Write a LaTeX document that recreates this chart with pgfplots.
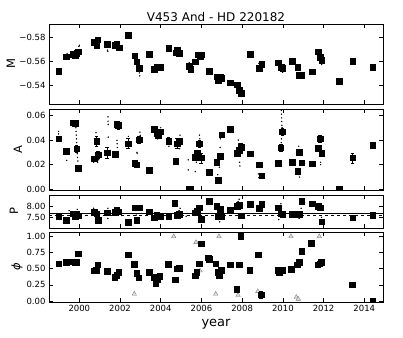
\documentclass[border=0pt]{standalone}
\usepackage{fontspec}
\setmainfont{DejaVu Sans}
\usepackage{pgfplots}
\pgfplotsset{compat=1.18}
\begin{document}
\begin{tikzpicture}
\path[use as bounding box] (-49pt,24pt) rectangle (354pt,-313pt);
\pgfplotsset{
  panel/.style={at={(0pt,#1)}, anchor=north west, width=334pt, scale only axis,
    xmin=1998.51, xmax=2014.92, xtick={2000,2002,...,2014}, xticklabels={},
    scaled y ticks=false, clip mode=individual, clip marker paths=true,
    tick align=inside, major tick length=4pt, tick style={black, line width=0.5pt},
    axis line style={line width=0.8pt},
    tick label style={font=\fontsize{8.5}{9}\selectfont},
    ylabel style={font=\fontsize{11.5}{13}\selectfont, anchor=center}},
  sq/.style={only marks, mark=square*, mark size=2.8pt, black},
  dots/.style={only marks, mark=*, mark size=0.45pt, black},
  eb/.style={sq, error bars/.cd, y dir=both, y explicit,
    error bar style={black, line width=0.5pt},
    error mark options={rotate=90, mark size=1.8pt, black, line width=0.5pt}},
  tri/.style={only marks, mark=triangle*, mark size=2.6pt, draw=gray, fill=gray!25},
}

% magnitude
\begin{axis}[panel=0pt, height=80pt,
  y dir=reverse, ymin=-0.5912, ymax=-0.5246,
  ytick={-0.58,-0.56,-0.54}, yticklabels={−0.58,−0.56,−0.54},
  ylabel={M}, ylabel style={at={(axis description cs:-0.114,0.5)}}]
\addplot[dots] coordinates {
(1998.98,-0.5495)(1999.40,-0.5665)(1999.98,-0.5725)(2000.00,-0.5735)(2001.38,-0.5695)
(2001.40,-0.5685)(2002.95,-0.5505)(2002.97,-0.548)(2004.95,-0.5655)(2008.82,-0.5585)
(2009.98,-0.5525)(2009.99,-0.551)(2010.95,-0.5470)(2010.97,-0.546)(2011.88,-0.559)
(2011.90,-0.5575)(2005.40,-0.5590)};
\addplot[sq] coordinates {
(1998.98,-0.552)(1999.36,-0.564)
(1999.71,-0.566)(1999.79,-0.5647)(1999.87,-0.567)(1999.95,-0.5683)
(2000.72,-0.5758)(2000.85,-0.5738)(2000.90,-0.578)
(2001.36,-0.5744)
(2001.75,-0.5738)(2001.83,-0.5747)(2001.95,-0.5716)
(2002.39,-0.5817)
(2002.72,-0.5649)(2002.82,-0.5599)(2002.93,-0.5543)
(2003.44,-0.5663)
(2003.68,-0.5534)(2003.80,-0.5557)(2003.96,-0.5551)
(2004.39,-0.5710)
(2004.73,-0.5674)(2004.81,-0.5697)(2004.90,-0.5669)
(2005.39,-0.5563)(2005.47,-0.5534)
(2005.70,-0.5599)(2005.85,-0.5655)(2005.93,-0.5641)(2006.00,-0.5655)
(2006.37,-0.552)
(2006.75,-0.5473)(2006.83,-0.5445)(2006.91,-0.5467)(2006.99,-0.5459)
(2007.40,-0.5422)
(2007.76,-0.5408)(2007.86,-0.536)(2007.94,-0.5338)
(2008.40,-0.566)
(2008.84,-0.5543)(2008.96,-0.5579)
(2009.78,-0.559)(2009.91,-0.555)(2009.99,-0.5543)
(2010.45,-0.5604)
(2010.73,-0.555)(2010.81,-0.5487)(2010.92,-0.5487)
(2011.43,-0.5515)
(2011.74,-0.5683)(2011.82,-0.5635)(2011.90,-0.5613)
(2012.77,-0.5436)
(2013.43,-0.5601)
(2014.41,-0.5551)};
\end{axis}

% amplitude
\begin{axis}[panel=-85pt, height=81pt,
  ymin=-0.0005, ymax=0.0652,
  ytick={0,0.02,0.04,0.06}, yticklabels={0.00,0.02,0.04,0.06},
  ylabel={A}, ylabel style={at={(axis description cs:-0.093,0.5)}}]
\addplot[dots] coordinates {
(1998.98,0.045)(1998.98,0.047)(1999.38,0.0235)
(1999.83,0.050)(1999.84,0.047)(1999.85,0.044)(1999.86,0.041)(1999.87,0.038)
(1999.90,0.029)(1999.91,0.026)(1999.93,0.023)
(2000.70,0.022)(2000.75,0.023)(2000.82,0.046)(2000.90,0.022)(2000.95,0.024)
(2001.41,0.0588)(2001.41,0.0553)(2001.42,0.0528)(2001.42,0.0424)
(2001.85,0.0398)(2001.86,0.037)(2001.87,0.034)
(2002.41,0.043)(2002.83,0.030)(2002.84,0.029)(2002.98,0.0465)(2002.99,0.0438)
(2004.00,0.050)(2003.90,0.042)(2003.85,0.041)(2004.40,0.035)
(2004.95,0.044)(2004.93,0.033)
(2005.35,0.024)(2005.35,0.0158)(2005.70,0.0144)
(2005.90,0.044)(2005.92,0.041)(2005.75,0.022)
(2006.93,0.041)(2006.92,0.034)(2006.88,0.018)(2006.86,0.007)(2006.80,0.012)
(2007.81,0.040)(2007.84,0.037)(2007.88,0.022)(2007.89,0.019)
(2008.80,0.0125)(2008.82,0.0095)
(2009.93,0.064)(2009.93,0.061)(2009.94,0.058)(2009.94,0.055)(2009.95,0.052)
(2009.96,0.050)(2009.93,0.041)(2009.92,0.038)
(2010.78,0.035)(2010.79,0.012)(2010.82,0.010)
(2011.80,0.027)(2011.85,0.022)(2011.86,0.020)};
\addplot[eb] coordinates {
(1998.98,0.0412)+-(0,0.002)
(1999.36,0.0311)+-(0,0.002)
(1999.71,0.054)+-(0,0)(1999.79,0.0535)+-(0,0)
(1999.87,0.033)+-(0,0.003)
(1999.95,0.0172)+-(0,0)
(2000.72,0.0248)+-(0,0)
(2000.85,0.039)+-(0,0.004)
(2000.92,0.028)+-(0,0.003)
(2001.36,0.0297)+-(0,0.0045)
(2001.75,0.0284)+-(0,0)
(2001.83,0.0529)+-(0,0)(2001.92,0.052)+-(0,0.003)
(2002.39,0.0371)+-(0,0.004)
(2002.72,0.0213)+-(0,0)(2002.82,0.0199)+-(0,0)
(2002.93,0.0404)+-(0,0.003)
(2003.44,0.0158)+-(0,0)
(2003.68,0.0486)+-(0,0)(2003.80,0.0453)+-(0,0)(2003.88,0.0439)+-(0,0)(2003.96,0.0467)+-(0,0)
(2004.39,0.0393)+-(0,0.003)
(2004.73,0.0229)+-(0,0)
(2004.81,0.0371)+-(0,0.004)(2004.90,0.0393)+-(0,0)
(2005.39,0)+-(0,0)(2005.47,0)+-(0,0)
(2005.70,0.0262)+-(0,0)(2005.80,0.0295)+-(0,0)(2005.90,0.0371)+-(0,0.003)(2005.98,0.0256)+-(0,0.004)
(2006.37,0.0139)+-(0,0)
(2006.75,0.0221)+-(0,0)(2006.83,0.0076)+-(0,0)(2006.91,0.027)+-(0,0)(2006.99,0.0445)+-(0,0)
(2007.40,0.0486)+-(0,0)
(2007.76,0.0295)+-(0,0)(2007.86,0.0317)+-(0,0)(2007.94,0.0344)+-(0,0.003)
(2008.40,0.0289)+-(0,0)
(2008.84,0.0199)+-(0,0)(2008.96,0.0112)+-(0,0)
(2009.78,0.0213)+-(0,0)(2009.90,0.0338)+-(0,0.003)(2009.98,0.0467)+-(0,0.003)
(2010.45,0.0221)+-(0,0)
(2010.73,0.0147)+-(0,0)(2010.81,0.0303)+-(0,0)(2010.92,0.0216)+-(0,0)
(2011.43,0.0207)+-(0,0)
(2011.74,0.0336)+-(0,0)(2011.82,0.0412)+-(0,0.003)(2011.90,0.0295)+-(0,0)
(2012.77,0)+-(0,0)
(2013.43,0.0256)+-(0,0.004)
(2014.41,0.0357)+-(0,0.002)};
\end{axis}

% period
\begin{axis}[panel=-171pt, height=33pt,
  ymin=7.03, ymax=8.485,
  ytick={7.5,8.0}, yticklabels={7.50,8.00},
  ylabel={P}, ylabel style={at={(axis description cs:-0.105,0.5)}}]
\addplot[black, line width=0.8pt] coordinates {(1998.51,7.676)(2014.92,7.676)};
\addplot[black, line width=0.8pt, dashed] coordinates {(1998.51,7.588)(2014.92,7.588)};
\addplot[dots] coordinates {
(1999.5,7.8)(1999.9,7.85)(2000.7,7.9)(2001.4,7.9)(2001.4,7.45)(2002.8,7.6)(2003.9,7.7)
(2004.95,7.9)(2004.9,7.8)(2005.9,7.45)(2006.85,7.4)(2006.9,7.3)(2007.8,8.2)(2007.85,8.3)
(2008.95,8.15)(2009.8,7.4)(2009.9,8.1)(2010.8,7.45)(2010.9,7.9)(2011.9,7.5)(2011.95,7.2)
(2005.25,7.55)(2000.1,7.5)};
\addplot[eb] coordinates {
(1998.98,7.54)+-(0,0)(1999.36,7.37)+-(0,0)
(1999.71,7.66)+-(0,0)(1999.79,7.53)+-(0,0)(1999.87,7.63)+-(0,0)(1999.95,7.57)+-(0,0.05)
(2000.72,7.74)+-(0,0.05)(2000.85,7.66)+-(0,0)(2000.92,7.38)+-(0,0)
(2001.36,7.71)+-(0,0.06)
(2001.75,7.74)+-(0,0)(2001.83,7.82)+-(0,0.06)(2001.92,7.75)+-(0,0)
(2002.39,7.29)+-(0,0)
(2002.72,7.93)+-(0,0)(2002.82,7.37)+-(0,0)(2002.93,7.93)+-(0,0)
(2003.44,7.75)+-(0,0.05)
(2003.68,7.49)+-(0,0)(2003.80,7.60)+-(0,0)(2003.96,7.54)+-(0,0)
(2004.39,7.53)+-(0,0)
(2004.68,8.13)+-(0,0)
(2004.81,7.59)+-(0,0)(2004.90,7.63)+-(0,0.05)
(2005.70,7.71)+-(0,0)(2005.80,7.78)+-(0,0)(2005.90,7.93)+-(0,0)(2005.98,7.41)+-(0,0)
(2006.37,8.22)+-(0,0.12)
(2006.75,8.0)+-(0,0.08)(2006.83,7.56)+-(0,0)(2006.91,7.85)+-(0,0)(2006.99,7.56)+-(0,0)
(2007.40,7.82)+-(0,0)
(2007.76,7.99)+-(0,0.1)(2007.86,8.03)+-(0,0)(2007.94,7.57)+-(0,0)
(2008.40,8.07)+-(0,0)
(2008.84,7.90)+-(0,0)(2008.96,8.07)+-(0,0.1)
(2009.78,7.93)+-(0,0)(2009.90,7.66)+-(0,0)(2009.99,7.63)+-(0,0)
(2010.45,7.63)+-(0,0)
(2010.73,7.66)+-(0,0)(2010.81,7.63)+-(0,0)(2010.92,8.22)+-(0,0.12)
(2011.43,8.10)+-(0,0.07)
(2011.74,8.0)+-(0,0)(2011.82,7.93)+-(0,0)(2011.90,7.31)+-(0,0)
(2013.43,7.49)+-(0,0)
(2014.41,7.60)+-(0,0)};
\end{axis}

% phase
\begin{axis}[panel=-208pt, height=70pt,
  ymin=-0.015, ymax=1.069,
  ytick={0,0.25,0.5,0.75,1}, yticklabels={0.00,0.25,0.50,0.75,1.00},
  xticklabels={2000,2002,2004,2006,2008,2010,2012,2014},
  xlabel={year}, xlabel style={font=\fontsize{13}{14}\selectfont},
  ylabel={\textit{ϕ}}, ylabel style={at={(axis description cs:-0.096,0.5)}}]
\addplot[tri] coordinates {
(2002.70,0.11)(2004.64,1.0)(2005.73,0.91)(2005.93,0.47)(2006.70,0.11)(2006.86,1.0)
(2007.80,0.09)(2008.77,0.15)(2010.40,1.0)(2010.66,0.06)(2010.76,0.03)(2011.79,1.0)};
\addplot[eb] coordinates {
(1998.98,0.58)+-(0,0)(1999.36,0.60)+-(0,0)
(1999.71,0.61)+-(0,0)(1999.79,0.60)+-(0,0)(1999.87,0.60)+-(0,0)(1999.95,0.73)+-(0,0)
(2000.72,0.47)+-(0,0)(2000.82,0.48)+-(0,0)(2000.90,0.56)+-(0,0)
(2001.36,0.46)+-(0,0.04)
(2001.73,0.37)+-(0,0)(2001.83,0.40)+-(0,0)(2001.93,0.45)+-(0,0)
(2002.39,0.72)+-(0,0)
(2002.71,0.57)+-(0,0)(2002.82,0.43)+-(0,0)(2002.92,0.36)+-(0,0)
(2003.44,0.45)+-(0,0)
(2003.68,0.37)+-(0,0)(2003.75,0.28)+-(0,0)(2003.85,0.33)+-(0,0)(2003.95,0.38)+-(0,0)
(2004.36,0.56)+-(0,0)(2004.38,0.57)+-(0,0)
(2004.70,0.33)+-(0,0)
(2004.81,0.50)+-(0,0)(2004.92,0.51)+-(0,0)
(2005.68,0.39)+-(0,0)(2005.77,0.45)+-(0,0)(2005.88,0.58)+-(0,0)(2005.99,0.89)+-(0,0)
(2006.34,0.67)+-(0,0)(2006.37,0.65)+-(0,0)
(2006.70,0.58)+-(0,0)(2006.80,0.45)+-(0,0)(2006.86,0.40)+-(0,0)(2006.96,0.48)+-(0,0)
(2007.40,0.56)+-(0,0)
(2007.73,0.18)+-(0,0)(2007.84,0.56)+-(0,0)(2007.93,1.00)+-(0,0)
(2008.37,0.48)+-(0,0)
(2008.79,0.72)+-(0,0)(2008.94,0.10)+-(0,0.05)
(2009.76,0.48)+-(0,0)(2009.83,0.45)+-(0,0)(2009.89,0.48)+-(0,0)(2009.97,0.48)+-(0,0)
(2010.42,0.49)+-(0,0)
(2010.70,0.56)+-(0,0)(2010.80,0.60)+-(0,0)(2010.92,0.77)+-(0,0)
(2011.39,0.90)+-(0,0)
(2011.71,0.56)+-(0,0)(2011.80,0.58)+-(0,0)(2011.88,0.60)+-(0,0)
(2013.41,0.25)+-(0,0)
(2014.41,0.0)+-(0,0)};
\end{axis}

\node[font=\fontsize{12}{14}\selectfont, anchor=center] at (167pt,7pt) {V453 And - HD 220182};
\end{tikzpicture}
\end{document}
